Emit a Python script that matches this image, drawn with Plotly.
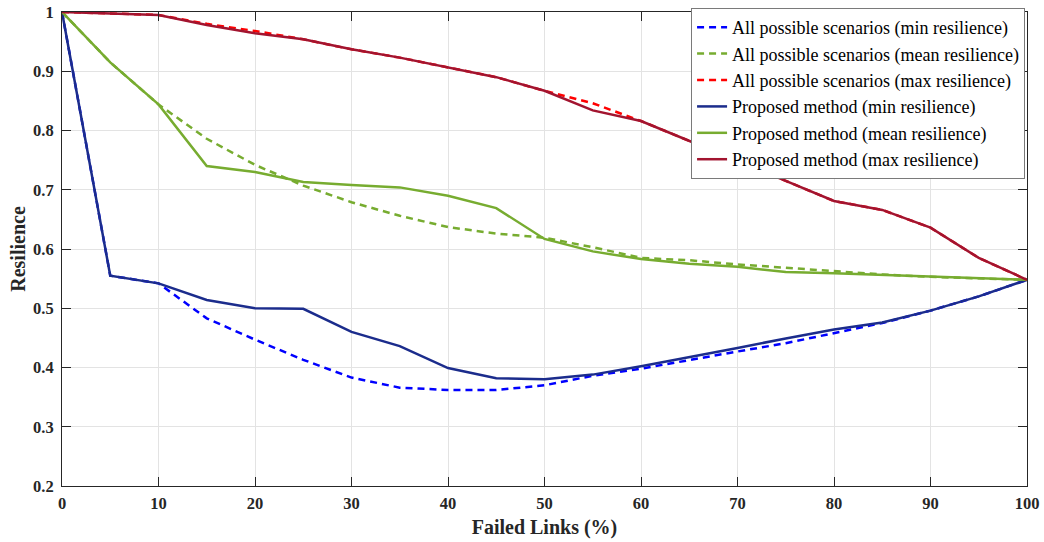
import plotly.graph_objects as go

failed_links = [0, 5, 10, 15, 20, 25, 30, 35, 40, 45, 50, 55, 60, 65, 70, 75, 80, 85, 90, 95, 100]

all_min = [1.0, 0.555, 0.542, 0.483, 0.447, 0.413, 0.383, 0.366, 0.362, 0.362, 0.370, 0.386, 0.398,
           0.413, 0.427, 0.441, 0.458, 0.475, 0.496, 0.520, 0.548]
all_mean = [1.0, 0.915, 0.844, 0.786, 0.742, 0.707, 0.679, 0.656, 0.637, 0.626, 0.619, 0.603, 0.585,
            0.581, 0.574, 0.568, 0.563, 0.557, 0.553, 0.550, 0.548]
all_max = [1.0, 0.998, 0.995, 0.980, 0.968, 0.954, 0.937, 0.923, 0.907, 0.890, 0.867, 0.846, 0.816,
           0.783, 0.749, 0.715, 0.681, 0.666, 0.636, 0.585, 0.548]

prop_min = [1.0, 0.555, 0.542, 0.514, 0.500, 0.499, 0.460, 0.436, 0.399, 0.382, 0.380, 0.388, 0.402,
            0.417, 0.433, 0.449, 0.464, 0.476, 0.496, 0.520, 0.548]
prop_mean = [1.0, 0.915, 0.844, 0.740, 0.730, 0.713, 0.708, 0.704, 0.690, 0.669, 0.617, 0.596, 0.583,
             0.575, 0.570, 0.561, 0.559, 0.556, 0.553, 0.550, 0.548]
prop_max = [1.0, 0.998, 0.995, 0.978, 0.964, 0.954, 0.937, 0.923, 0.907, 0.890, 0.867, 0.834, 0.816,
            0.783, 0.749, 0.715, 0.681, 0.666, 0.636, 0.585, 0.548]

series = [
    ("All possible scenarios (min resilience)", all_min, "#0000FF", "7px,5px"),
    ("All possible scenarios (mean resilience)", all_mean, "#77AC30", "7px,5px"),
    ("All possible scenarios (max resilience)", all_max, "#FF0000", "7px,5px"),
    ("Proposed method (min resilience)", prop_min, "#1B2C8C", "solid"),
    ("Proposed method (mean resilience)", prop_mean, "#77AC30", "solid"),
    ("Proposed method (max resilience)", prop_max, "#A2142F", "solid"),
]

FONT = "Liberation Serif"
fig = go.Figure()
for name, ys, color, dash in series:
    fig.add_trace(go.Scatter(x=failed_links, y=ys, mode="lines", name=name,
                             line=dict(color=color, width=2.5, dash=dash)))

axis_common = dict(
    showline=True, linecolor="#262626", linewidth=1, mirror="ticks",
    ticks="inside", ticklen=9, tickcolor="#262626", tickwidth=1,
    showgrid=True, gridcolor="#e3e3e3", gridwidth=1, zeroline=False,
    automargin=False,
    tickfont=dict(family=FONT, size=16.5, color="#262626", weight="bold"),
)

fig.update_xaxes(range=[0, 100], dtick=10, tick0=0, ticklabelstandoff=2,
                 title=dict(text="Failed Links (%)", standoff=8,
                            font=dict(family=FONT, size=20, color="#262626", weight="bold")),
                 **axis_common)
fig.update_yaxes(range=[0.2, 1.0], dtick=0.1, tick0=0.2, ticklabelstandoff=4,
                 title=dict(text="Resilience", standoff=2,
                            font=dict(family=FONT, size=20, color="#262626", weight="bold")),
                 **axis_common)

fig.update_layout(
    width=1044, height=542,
    margin=dict(l=62, r=17, t=12, b=56, autoexpand=False),
    paper_bgcolor="white", plot_bgcolor="white",
    font=dict(family=FONT, color="#262626"),
    legend=dict(x=0.998, y=1.0084, xanchor="right", yanchor="top",
                bgcolor="white", bordercolor="#7a7a7a", borderwidth=1,
                font=dict(family=FONT, size=18, color="#000000"),
                tracegroupgap=0),
    showlegend=True,
)

fig.write_html("out.html")
